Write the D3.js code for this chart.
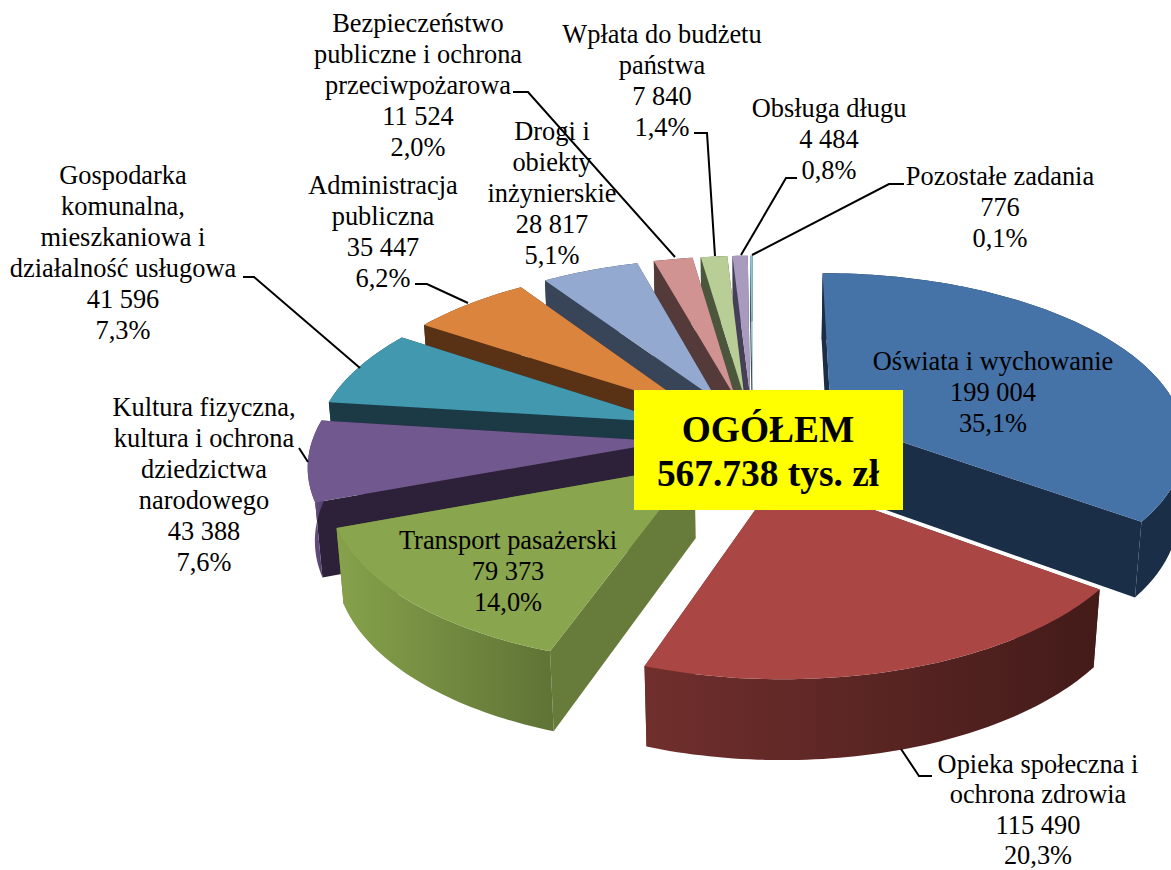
<!DOCTYPE html>
<html lang="pl">
<head>
<meta charset="utf-8">
<title>Wydatki</title>
<script src="https://cdn.jsdelivr.net/npm/d3@7"></script>
<style>
  html, body { margin: 0; padding: 0; background: #fff; overflow: hidden; }
  text { font-family: "Liberation Serif", "Times New Roman", serif; fill: #000; }
</style>
</head>
<body>
<div id="chart"></div>
<script>
// Chart values, clockwise from 12 o'clock
const categories = [
    ["Oświata i wychowanie"],
    ["Opieka społeczna i", "ochrona zdrowia"],
    ["Transport pasażerski"],
    ["Kultura fizyczna,", "kultura i ochrona", "dziedzictwa", "narodowego"],
    ["Gospodarka", "komunalna,", "mieszkaniowa i", "działalność usługowa"],
    ["Administracja", "publiczna"],
    ["Drogi i", "obiekty", "inżynierskie"],
    ["Bezpieczeństwo", "publiczne i ochrona", "przeciwpożarowa"],
    ["Wpłata do budżetu", "państwa"],
    ["Obsługa długu"],
    ["Pozostałe zadania"]
];
const values = [199004, 115490, 79373, 43388, 41596, 35447, 28817, 11524, 7840, 4484, 776];
const totalLines = ["OGÓŁEM", "567.738 tys. zł"];

// Colours of each slice: top face, radial wall, outer wall left, outer wall right
const topColors = ["#4572a7", "#aa4643", "#89a54e", "#71588f", "#4198af", "#db843d", "#93a9cf", "#d19392", "#b9cd96", "#a99bbd", "#92c3d4"];
const sideColors = ["#1b2e47", "#5a2422", "#677b3a", "#2c2138", "#1b3a45", "#593216", "#384558", "#553a3a", "#4c563c", "#454058", "#3c5157"];
const wallLeft = ["#1b2e47", "#702f2d", "#86a24b", "#71588f", "#1b3a45", "#593216", "#384558", "#553a3a", "#4c563c", "#454058", "#3c5157"];
const wallRight = ["#1b2e47", "#431b19", "#5f7335", "#4a3862", "#1b3a45", "#593216", "#384558", "#553a3a", "#4c563c", "#454058", "#3c5157"];

// How far each slice is pulled out of the pie
const explodeBy = [0.25, 0.24, 0.23, 0.24, 0.25, 0.25, 0.25, 0.25, 0.25, 0.25, 0.25];

// Where the labels sit: centre x and baseline of the first line
const labelX = [993, 1038, 508, 204, 123, 383, 552, 418, 662, 829, 1000];
const labelY = [370, 773, 549, 416, 184, 194, 140, 32, 43, 117, 185];

// Leader lines as drawn by hand in the source chart
const leaders = [
    [[901, 749], [919, 776], [932, 776]],
    [[299, 448], [308, 462]],
    [[243, 277], [254, 277], [360, 368]],
    [[415, 284], [427, 284], [468, 303]],
    [[513, 92], [528, 92], [675, 257]],
    [[694, 133], [707, 133], [715, 256]],
    [[797, 178], [786, 178], [741, 255]],
    [[904, 184], [889, 184], [752, 255]]
];

const width = 1171;
const height = 870;

// Pie geometry, the pie has radius 1 and is seen through a tilted camera
const cx = 753;
const cy = 437;
const focalX = 355;
const focalY = 350;
const sinTilt = 0.478;
const cosTilt = Math.sqrt(1 - sinTilt * sinTilt);
const perspective = 0.14;
const depth = 0.24;
const lineHeight = 30.9;

function project(x, z, h) {
    const up = h * cosTilt + z * sinTilt;
    const away = z * cosTilt - h * sinTilt;
    const s = 1 / (1 + perspective * away);
    return [cx + focalX * x * s, cy - focalY * up * s];
}

const svg = d3.select("#chart")
    .append("svg")
    .attr("width", width)
    .attr("height", height);

const defs = svg.append("defs");
const pathOf = d3.line();

const pie = d3.pie().sort(null).value(d => d);
const slices = pie(values).map((d, i) => {
    const mid = (d.startAngle + d.endAngle) / 2;
    return {
        i,
        start: d.startAngle,
        end: d.endAngle,
        ox: explodeBy[i] * Math.sin(mid),
        oz: explodeBy[i] * Math.cos(mid),
        nearness: -Math.cos(mid)
    };
});

// Point on a slice: r = 0 is its tip, r = 1 its rim
function point(s, angle, r, h) {
    return project(s.ox + r * Math.sin(angle), s.oz + r * Math.cos(angle), h);
}

function rim(s, h) {
    const n = Math.max(2, Math.ceil((s.end - s.start) / 0.02));
    return d3.range(n + 1).map(k => point(s, s.start + (s.end - s.start) * k / n, 1, h));
}

// Far slices first, so the near ones cover them
const order = slices.slice().sort((a, b) => d3.ascending(a.nearness, b.nearness));

order.forEach(s => {
    const g = svg.append("g");
    const top = rim(s, 0);
    const bottom = rim(s, -depth);

    const gradId = "wall" + s.i;
    const grad = defs.append("linearGradient").attr("id", gradId);
    grad.append("stop").attr("offset", "0%").attr("stop-color", wallLeft[s.i]);
    grad.append("stop").attr("offset", "100%").attr("stop-color", wallRight[s.i]);

    // The two radial walls
    [s.start, s.end].forEach(a => {
        g.append("path")
            .attr("d", pathOf([point(s, a, 0, 0), point(s, a, 1, 0), point(s, a, 1, -depth), point(s, a, 0, -depth)]) + "Z")
            .attr("fill", sideColors[s.i]);
    });

    // Outer wall
    g.append("path")
        .attr("d", pathOf(top.concat(bottom.slice().reverse())) + "Z")
        .attr("fill", `url(#${gradId})`);

    // Top face
    g.append("path")
        .attr("d", pathOf([point(s, s.start, 0, 0)].concat(top)) + "Z")
        .attr("fill", topColors[s.i]);
});

// Yellow total box
svg.append("rect")
    .attr("x", 634).attr("y", 390)
    .attr("width", 269).attr("height", 120)
    .attr("fill", "#ffff00");

svg.selectAll(".total")
    .data(totalLines)
    .join("text")
    .attr("class", "total")
    .attr("x", 768)
    .attr("y", (d, i) => 442 + i * 44)
    .attr("text-anchor", "middle")
    .attr("font-size", 37.4)
    .attr("font-weight", "bold")
    .text(d => d);

// Leader lines
svg.selectAll(".leader")
    .data(leaders)
    .join("path")
    .attr("class", "leader")
    .attr("d", d => pathOf(d))
    .attr("fill", "none")
    .attr("stroke", "#000")
    .attr("stroke-width", 2);

// Labels: name lines, value, share
const locale = d3.formatLocale({ decimal: ",", thousands: " ", grouping: [3], currency: ["", " zł"], percent: "%" });
const formatValue = locale.format(",d");
const formatShare = locale.format(".1%");
const total = d3.sum(values);

categories.forEach((lines, i) => {
    const all = lines.concat([formatValue(values[i]), formatShare(values[i] / total)]);
    // the Opieka label runs to the bottom edge, so it is packed a little tighter
    const gap = i === 1 ? 30.3 : lineHeight;
    svg.append("g").selectAll("text")
        .data(all)
        .join("text")
        .attr("x", labelX[i])
        .attr("y", (d, k) => labelY[i] + k * gap)
        .attr("text-anchor", "middle")
        .attr("font-size", 26.4)
        .text(d => d);
});
</script>
</body>
</html>
